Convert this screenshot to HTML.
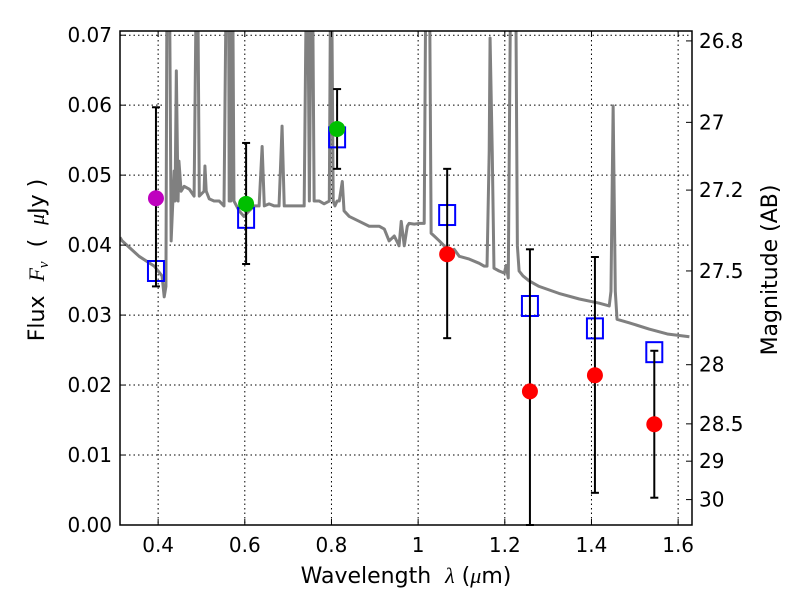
<!DOCTYPE html>
<html><head><meta charset="utf-8"><style>
body{margin:0;background:#fff;}
svg text{font-family:"DejaVu Sans","Liberation Sans",sans-serif;}
</style></head><body>
<svg id="chart" width="800" height="600" xmlns="http://www.w3.org/2000/svg">
<defs><clipPath id="pc"><rect x="120" y="31" width="572" height="494"/></clipPath></defs>
<g id="grid"></g>
<g id="spec" clip-path="url(#pc)"></g>
<g id="marks"></g>
<rect x="120" y="31" width="572" height="494" fill="none" stroke="#000" stroke-width="1.5"/>
<g id="axes"></g>
<text x="406" y="583" font-size="22" text-anchor="middle">Wavelength&#160;&#160;<tspan font-style="italic" font-family="Liberation Serif, serif">λ</tspan> (<tspan font-style="italic" font-family="Liberation Serif, serif">μ</tspan>m)</text>
<text transform="translate(44,260) rotate(-90)" font-size="22" text-anchor="middle">Flux&#160;&#160;<tspan font-style="italic" font-family="Liberation Serif, serif">F<tspan font-size="15" dy="4">ν</tspan></tspan><tspan dy="-4">&#160;&#160;(&#160;&#160;</tspan><tspan font-style="italic" font-family="Liberation Serif, serif">μ</tspan>Jy )</text>
<text transform="translate(777,270) rotate(-90)" font-size="22" text-anchor="middle">Magnitude (AB)</text>
</svg>
<script>
const xTicks=[0.4,0.6,0.8,1.0,1.2,1.4,1.6];
const xTickLabels=["0.4","0.6","0.8","1","1.2","1.4","1.6"];
const yTicks=[0,0.01,0.02,0.03,0.04,0.05,0.06,0.07];
const yTickLabels=["0.00","0.01","0.02","0.03","0.04","0.05","0.06","0.07"];
const magTicks=[26.8,27,27.2,27.5,28,28.5,29,30];
const magTickLabels=["26.8","27","27.2","27.5","28","28.5","29","30"];
const specWl=[0.312,0.317,0.356,0.391,0.409,0.414,0.418,0.421,0.425,0.430,0.437,0.439,0.442,0.446,0.448,0.453,0.460,0.472,0.483,0.490,0.495,0.506,0.508,0.511,0.518,0.529,0.541,0.552,0.559,0.562,0.564,0.568,0.571,0.575,0.587,0.598,0.610,0.622,0.633,0.640,0.645,0.656,0.668,0.679,0.686,0.691,0.702,0.714,0.725,0.737,0.744,0.749,0.755,0.760,0.772,0.783,0.795,0.799,0.804,0.808,0.813,0.818,0.825,0.829,0.841,0.864,0.887,0.910,0.922,0.933,0.945,0.956,0.961,0.968,0.975,0.979,0.991,1.002,1.014,1.019,1.025,1.030,1.037,1.049,1.060,1.072,1.083,1.095,1.118,1.141,1.152,1.159,1.164,1.166,1.171,1.175,1.187,1.199,1.203,1.208,1.215,1.224,1.229,1.233,1.242,1.256,1.279,1.325,1.372,1.418,1.441,1.445,1.450,1.455,1.459,1.487,1.533,1.575,1.626];
const specFlux=[0.0411,0.0406,0.0384,0.0370,0.0356,0.0326,0.0341,0.09,0.09,0.0406,0.0506,0.0463,0.0649,0.0463,0.0520,0.0477,0.0484,0.0480,0.0470,0.09,0.0470,0.0477,0.0513,0.0477,0.0466,0.0463,0.0463,0.0456,0.09,0.09,0.0463,0.0463,0.09,0.0463,0.0449,0.0441,0.0449,0.0456,0.0456,0.0541,0.0456,0.0459,0.0456,0.0456,0.0570,0.0456,0.0456,0.0456,0.0456,0.0456,0.09,0.0463,0.09,0.0463,0.0463,0.0459,0.0463,0.09,0.0463,0.0456,0.0463,0.0463,0.0491,0.0449,0.0441,0.0434,0.0427,0.0427,0.0423,0.0406,0.0413,0.0399,0.0434,0.0399,0.0427,0.0431,0.0430,0.0431,0.0431,0.09,0.09,0.0417,0.0413,0.0406,0.0399,0.0391,0.0394,0.0384,0.0380,0.0374,0.0370,0.0370,0.0534,0.0696,0.0534,0.0367,0.0363,0.0360,0.0371,0.0353,0.09,0.09,0.0399,0.0363,0.0356,0.0349,0.0341,0.0331,0.0323,0.0317,0.0313,0.0334,0.0599,0.0334,0.0294,0.0289,0.0280,0.0273,0.0269];
const circWl=[0.395,0.603,0.813,1.067,1.258,1.408,1.545];
const circFlux=[0.0467,0.0459,0.0566,0.0387,0.0191,0.0214,0.0144];
const circColor=["#bf00bf","#00bf00","#00bf00","#ff0000","#ff0000","#ff0000","#ff0000"];
const errHi=[0.0597,0.0546,0.0623,0.0509,0.0394,0.0383,0.0249];
const errLo=[0.0341,0.0373,0.0509,0.0267,0.0,0.0046,0.0039];
const sqFlux=[0.0363,0.0439,0.0554,0.0443,0.0313,0.0281,0.0247];
const X0=0.312,X1=1.632,Y1=0.0706;
const xs=v=>120+(v-X0)/(X1-X0)*572;
const ys=v=>525-v/Y1*494;
const NS="http://www.w3.org/2000/svg";
function mk(tag,parent,attrs){const e=document.createElementNS(NS,tag);for(const k in attrs)e.setAttribute(k,attrs[k]);parent.appendChild(e);return e;}
const grid=document.getElementById('grid'),axes=document.getElementById('axes');
xTicks.forEach((t,i)=>{const x=xs(t);
 const g=mk('line',grid,{x1:x,x2:x,y1:31,y2:525,stroke:'#000','stroke-dasharray':'1.5,3','stroke-width':1});
 
 
 mk('line',axes,{x1:x,x2:x,y1:525,y2:519,stroke:'#000'});
 mk('line',axes,{x1:x,x2:x,y1:31,y2:37,stroke:'#000'});
 const tx=mk('text',axes,{x:x,y:552,'font-size':20,'text-anchor':'middle'});tx.textContent=xTickLabels[i];
 
 });
yTicks.forEach((t,i)=>{const y=ys(t);
 const g=mk('line',grid,{x1:120,x2:692,y1:y,y2:y,stroke:'#000','stroke-dasharray':'1.5,3','stroke-width':1});
 
 
 mk('line',axes,{x1:120,x2:126,y1:y,y2:y,stroke:'#000'});
 const tx=mk('text',axes,{x:112,y:y+7,'font-size':20,'text-anchor':'end'});tx.textContent=yTickLabels[i];
 
 });
magTicks.forEach((m,i)=>{const f=Math.pow(10,-(m-23.9)/2.5);const y=ys(f);
 mk('line',axes,{x1:692,x2:686,y1:y,y2:y,stroke:'#000'});
 const tx=mk('text',axes,{x:699,y:y+7,'font-size':20});tx.textContent=magTickLabels[i];
 
 });
const spec=document.getElementById('spec');
const p=mk('polyline',spec,{points:specWl.map((w,i)=>xs(w)+','+ys(specFlux[i])).join(' '),fill:'none',stroke:'#808080','stroke-width':3,'stroke-linejoin':'round'});


const marks=document.getElementById('marks');
circWl.forEach((w,i)=>{const x=xs(w);
 const sq=mk('rect',marks,{x:x-8,y:ys(sqFlux[i])-10,width:16,height:20,fill:'none',stroke:'#0000ff','stroke-width':2});
 
 
 const el=mk('line',marks,{x1:x,x2:x,y1:ys(errHi[i]),y2:ys(errLo[i]),stroke:'#000','stroke-width':2});
 
 
 mk('line',marks,{x1:x-4,x2:x+4,y1:ys(errHi[i]),y2:ys(errHi[i]),stroke:'#000','stroke-width':2});
 mk('line',marks,{x1:x-4,x2:x+4,y1:ys(errLo[i]),y2:ys(errLo[i]),stroke:'#000','stroke-width':2});
 const c=mk('circle',marks,{cx:x,cy:ys(circFlux[i]),r:8,fill:circColor[i]});
 
 });
</script>
</body></html>
